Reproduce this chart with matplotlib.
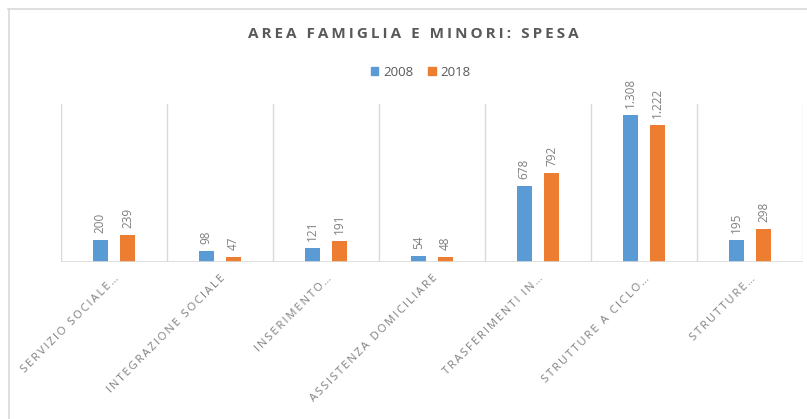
import numpy as np
import matplotlib.pyplot as plt
from matplotlib.lines import Line2D
from matplotlib.patches import Patch

# Spesa per area famiglia e minori, confronto 2008 / 2018
categorie = ["SERVIZIO SOCIALE…", "INTEGRAZIONE SOCIALE", "INSERIMENTO…",
             "ASSISTENZA DOMICILIARE", "TRASFERIMENTI IN…",
             "STRUTTURE A CICLO…", "STRUTTURE…"]
anni = ["2008", "2018"]
spesa_2008 = [200, 98, 121, 54, 678, 1308, 195]
spesa_2018 = [239, 47, 191, 48, 792, 1222, 298]

col_2008 = "#5B9BD5"
col_2018 = "#ED7D31"
grigio_griglia = "#D9D9D9"
grigio_testo = "#7F7F7F"
grigio_titolo = "#595959"

plt.rcParams['font.family'] = ['Open Sans', 'DejaVu Sans']


def spaziato(testo):
    # thin space between letters
    return "\u2009".join(testo)


def fmt_it(v):
    return f"{v:,}".replace(",", ".")


fig = plt.figure(figsize=(8.07, 4.19), dpi=100)
ax = fig.add_axes([0.0756, 0.3747, 0.9194, 0.3771])

x = np.arange(len(categorie))
larg = 0.139
off = 0.129
barre_08 = ax.bar(x - off, spesa_2008, width=larg, color=col_2008, zorder=3)
barre_18 = ax.bar(x + off, spesa_2018, width=larg, color=col_2018, zorder=3)

for barre, valori in ((barre_08, spesa_2008), (barre_18, spesa_2018)):
    for b, v in zip(barre, valori):
        ax.annotate(fmt_it(v), (b.get_x() + b.get_width() / 2, v),
                    xytext=(0, 5), textcoords="offset points",
                    rotation=90, ha="center", va="bottom",
                    fontsize=8.5, color=grigio_testo)

ax.set_xlim(-0.5, len(categorie) - 0.5)
ax.set_ylim(0, 1406)

# separatori verticali tra le categorie e linea di base
for sep in np.arange(-0.5, len(categorie), 1.0):
    ax.axvline(sep, color=grigio_griglia, lw=1, zorder=1)
ax.axhline(0, color=grigio_griglia, lw=1.2, zorder=4)

for s in ax.spines.values():
    s.set_visible(False)
ax.set_yticks([])
ax.set_xticks(x)
ax.set_xticklabels([spaziato(c) for c in categorie], rotation=45,
                   ha="right", va="top", rotation_mode="anchor",
                   fontsize=8.1, color=grigio_testo)
ax.tick_params(axis="x", length=0, pad=8)

fig.text(0.512, 0.918, spaziato("AREA FAMIGLIA E MINORI: SPESA"),
         ha="center", va="center", fontsize=11, fontweight="bold",
         color=grigio_titolo)

maniglie = [Patch(color=col_2008), Patch(color=col_2018)]
fig.legend(maniglie, anni, loc="center", bbox_to_anchor=(0.521, 0.828),
           ncol=2, frameon=False, fontsize=9.5, labelcolor=grigio_titolo,
           handlelength=0.6, handleheight=0.6, handletextpad=0.35,
           columnspacing=1.1)

# cornice esterna del grafico
fig.add_artist(Line2D([8 / 807, 1], [1 - 9 / 419] * 2,
                      transform=fig.transFigure, color=grigio_griglia, lw=1.2))
fig.add_artist(Line2D([8.5 / 807] * 2, [0, 1 - 9 / 419],
                      transform=fig.transFigure, color=grigio_griglia, lw=1.2))

fig.savefig("out.png", dpi=100)
